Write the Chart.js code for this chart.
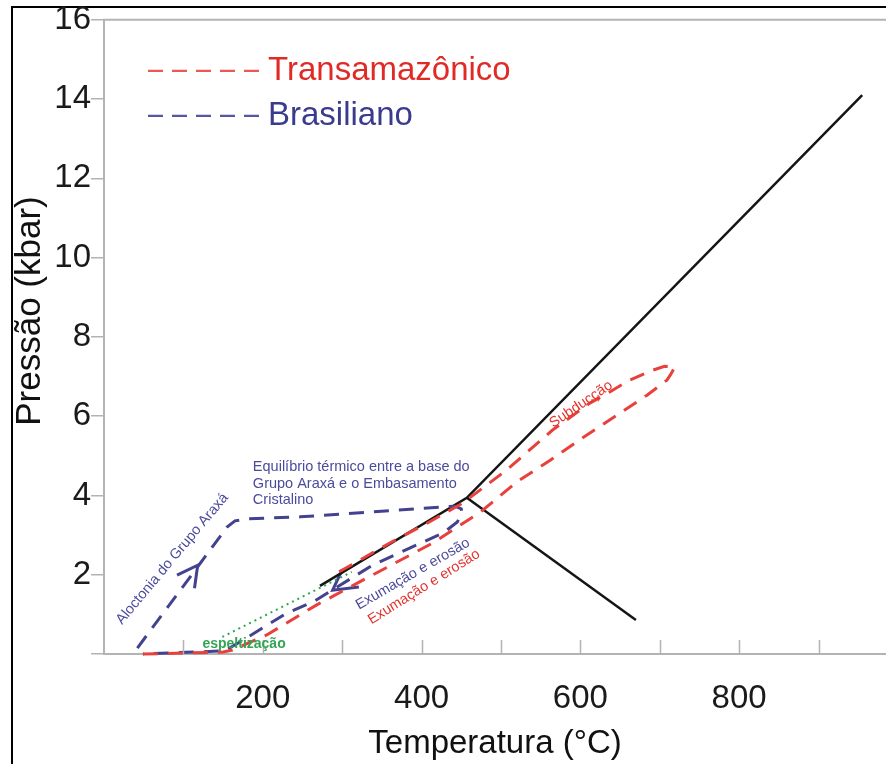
<!DOCTYPE html>
<html>
<head>
<meta charset="utf-8">
<script src="https://cdn.jsdelivr.net/npm/chart.js@4.4.1/dist/chart.umd.min.js"></script>
<style>
html,body{margin:0;padding:0;background:#fff;overflow:hidden}
#wrap{position:relative;width:886px;height:764px}
</style>
</head>
<body>
<div id="wrap"><canvas id="c" width="886" height="764"></canvas></div>
<script>
// ---------- data (Temperatura °C, Pressão kbar) ----------
const xTickValues = [100, 200, 300, 400, 500, 600, 700, 800, 900];
const xTickLabels = ['200', '400', '600', '800'];
const yTickLabels = ['2', '4', '6', '8', '10', '12', '14', '16'];

// Transamazônico path (red loop)
const transT = [49, 150, 162, 205, 268, 322, 369, 414, 474, 520, 562, 599, 650, 684, 709, 714, 719, 706, 691, 662, 637, 612, 565, 507, 452, 407, 360, 318, 287];
const transP = [0.0, 0.05, 0.10, 0.48, 1.24, 1.82, 2.32, 2.80, 3.58, 4.34, 4.89, 5.40, 6.08, 6.53, 6.91, 7.06, 7.24, 7.26, 7.16, 6.91, 6.61, 6.33, 5.65, 4.64, 3.81, 3.30, 2.80, 2.32, 1.97];

// Brasiliano path (blue)
const brasT = [42, 155, 165, 181, 247, 427, 442, 450, 451, 445, 427, 385, 339, 263, 230, 175, 152, 49];
const brasP = [0.15, 3.20, 3.36, 3.41, 3.46, 3.71, 3.73, 3.66, 3.56, 3.33, 3.05, 2.67, 2.25, 1.31, 1.03, 0.35, 0.08, 0.0];

// Arrow heads on the Brasiliano path
const arrowUpT = [92, 118, 114];
const arrowUpP = [1.99, 2.24, 1.66];
const arrowDownT = [300, 288, 321];
const arrowDownP = [2.12, 1.61, 1.69];

// Solid black reaction curves
const curveAT = [272, 457, 955];
const curveAP = [1.72, 3.94, 14.10];
const curveBT = [457, 670];
const curveBP = [3.94, 0.86];

// Espeltização (green dotted)
const greenT = [149, 312];
const greenP = [0.43, 2.07];

const zip = (xs, ys) => xs.map((x, i) => ({x: x, y: ys[i]}));

// ---------- styles ----------
const FONT = "'Liberation Sans', Arial, sans-serif";
const RED = '#e8403a';
const BLUE = '#42428f';
const BLACK = '#151515';
const GREEN = '#33a455';
const RED_TEXT = '#e3332e';
const BLUE_TEXT = '#4b4b9c';
const AXIS_GRAY = '#b3b3b3';

// annotation texts (anchored in data units)
const notes = [
  {text: 'Aloctonia do Grupo Araxá', t: 86, p: 2.40, angle: -50, color: BLUE_TEXT, font: '14.5px ' + FONT, align: 'center'},
  {text: 'Equilíbrio térmico entre a base do', t: 187.5, p: 4.72, angle: 0, color: BLUE_TEXT, font: '14.5px ' + FONT, align: 'left'},
  {text: 'Grupo Araxá e o Embasamento', t: 187.5, p: 4.30, angle: 0, color: BLUE_TEXT, font: '14.5px ' + FONT, align: 'left'},
  {text: 'Cristalino', t: 187.5, p: 3.88, angle: 0, color: BLUE_TEXT, font: '14.5px ' + FONT, align: 'left'},
  {text: 'Exumação e erosão', t: 389, p: 2.02, angle: -30, color: BLUE_TEXT, font: '14.5px ' + FONT, align: 'center'},
  {text: 'Exumação e erosão', t: 403, p: 1.69, angle: -32, color: RED_TEXT, font: '14.5px ' + FONT, align: 'center'},
  {text: 'Subducção', t: 601, p: 6.30, angle: -34, color: RED_TEXT, font: '14.5px ' + FONT, align: 'center'},
  {text: 'espeltização', t: 124, p: 0.25, angle: 0, color: GREEN, font: 'bold 14px ' + FONT, align: 'left'}
];

const decorPlugin = {
  id: 'decor',
  beforeDraw(chart) {
    const ctx = chart.ctx;
    ctx.save();
    ctx.fillStyle = '#ffffff';
    ctx.fillRect(0, 0, chart.width, chart.height);
    // outer frame
    ctx.strokeStyle = '#000';
    ctx.lineWidth = 2;
    ctx.beginPath();
    ctx.moveTo(12, chart.height);
    ctx.lineTo(12, 7);
    ctx.lineTo(chart.width, 7);
    ctx.stroke();
    ctx.restore();
  },
  afterDraw(chart) {
    const ctx = chart.ctx;
    const xs = chart.scales.x, ys = chart.scales.y;
    const a = chart.chartArea;
    ctx.save();
    // top border of plot
    ctx.strokeStyle = AXIS_GRAY;
    ctx.lineWidth = 2;
    ctx.beginPath();
    ctx.moveTo(a.left - 1, a.top);
    ctx.lineTo(a.right, a.top);
    ctx.stroke();
    // inward tick marks on x axis
    ctx.lineWidth = 1.5;
    xTickValues.forEach(v => {
      const px = Math.round(xs.getPixelForValue(v)) + 0.5;
      ctx.beginPath();
      ctx.moveTo(px, a.bottom);
      ctx.lineTo(px, a.bottom - 14);
      ctx.stroke();
    });
    // annotations
    notes.forEach(n => {
      const px = xs.getPixelForValue(n.t), py = ys.getPixelForValue(n.p);
      ctx.save();
      ctx.translate(px, py);
      ctx.rotate(n.angle * Math.PI / 180);
      ctx.font = n.font;
      ctx.fillStyle = n.color;
      ctx.textAlign = n.align;
      ctx.textBaseline = 'middle';
      ctx.fillText(n.text, 0, 0);
      ctx.restore();
    });
    // legend
    const legendItems = chart.data.datasets.filter(d => d.legendColor);
    legendItems.forEach((d, i) => {
      const ly = a.top + 51 + i * 45;
      ctx.save();
      ctx.strokeStyle = d.legendColor;
      ctx.lineWidth = 2.2;
      ctx.setLineDash([15, 9]);
      ctx.beginPath();
      ctx.moveTo(a.left + 44, ly);
      ctx.lineTo(a.left + 155, ly);
      ctx.stroke();
      ctx.setLineDash([]);
      ctx.font = '33px ' + FONT;
      ctx.fillStyle = d.legendTextColor;
      ctx.textAlign = 'left';
      ctx.textBaseline = 'middle';
      ctx.fillText(d.label, a.left + 164, ly);
      ctx.restore();
    });
    // y axis title
    ctx.save();
    ctx.translate(30, 311);
    ctx.rotate(-Math.PI / 2);
    ctx.font = '35px ' + FONT;
    ctx.fillStyle = '#111';
    ctx.textAlign = 'center';
    ctx.textBaseline = 'middle';
    ctx.fillText('Pressão (kbar)', 0, 0);
    ctx.restore();
    ctx.restore();
  }
};

const lineDs = (label, data, color, width, dash, extra) => Object.assign({
  label: label,
  data: data,
  showLine: true,
  borderColor: color,
  backgroundColor: color,
  borderWidth: width,
  borderDash: dash,
  pointRadius: 0,
  pointHoverRadius: 0,
  tension: 0,
  fill: false,
  clip: false
}, extra || {});

new Chart(document.getElementById('c'), {
  type: 'scatter',
  data: {
    datasets: [
      lineDs('espeltização', zip(greenT, greenP), GREEN, 2, [2, 4]),
      lineDs('Transamazônico', zip(transT, transP), RED, 3, [15, 10], {legendColor: '#e85a55', legendTextColor: '#e02a26'}),
      lineDs('Brasiliano', zip(brasT, brasP), BLUE, 3, [15, 10], {legendColor: '#5656a3', legendTextColor: '#3b3b8e'}),
      lineDs('curva A', zip(curveAT, curveAP), BLACK, 2.5, []),
      lineDs('curva B', zip(curveBT, curveBP), BLACK, 2.5, []),
      lineDs('seta 1', zip(arrowUpT, arrowUpP), BLUE, 3, []),
      lineDs('seta 2', zip(arrowDownT, arrowDownP), BLUE, 3, [])
    ]
  },
  options: {
    responsive: false,
    animation: false,
    devicePixelRatio: 1,
    layout: {padding: {left: 0, right: 0, top: 0, bottom: 0}},
    plugins: {legend: {display: false}, tooltip: {enabled: false}},
    scales: {
      x: {
        type: 'linear',
        min: 0,
        max: 985,
        afterFit(s) { s.height = 110; },
        afterBuildTicks(s) { s.ticks = [0].concat(xTickValues).map(v => ({value: v})); },
        ticks: {
          autoSkip: false,
          maxRotation: 0,
          padding: 25,
          color: '#1a1a1a',
          font: {family: FONT, size: 33},
          callback: v => xTickLabels.includes(String(v)) ? String(v) : ''
        },
        grid: {drawOnChartArea: false, drawTicks: false},
        border: {display: true, color: AXIS_GRAY, width: 2},
        title: {display: true, text: 'Temperatura (°C)', color: '#111', font: {family: FONT, size: 33}, padding: {top: 0, bottom: 0}}
      },
      y: {
        type: 'linear',
        min: 0,
        max: 16,
        afterFit(s) { s.width = 104; },
        ticks: {
          stepSize: 2,
          padding: 0,
          color: '#1a1a1a',
          font: {family: FONT, size: 33},
          callback: v => yTickLabels.includes(String(v)) ? String(v) : ''
        },
        grid: {drawOnChartArea: false, drawTicks: true, tickLength: 13, color: AXIS_GRAY, lineWidth: 1.5},
        border: {display: true, color: AXIS_GRAY, width: 2}
      }
    }
  },
  plugins: [decorPlugin]
});
</script>
</body>
</html>
